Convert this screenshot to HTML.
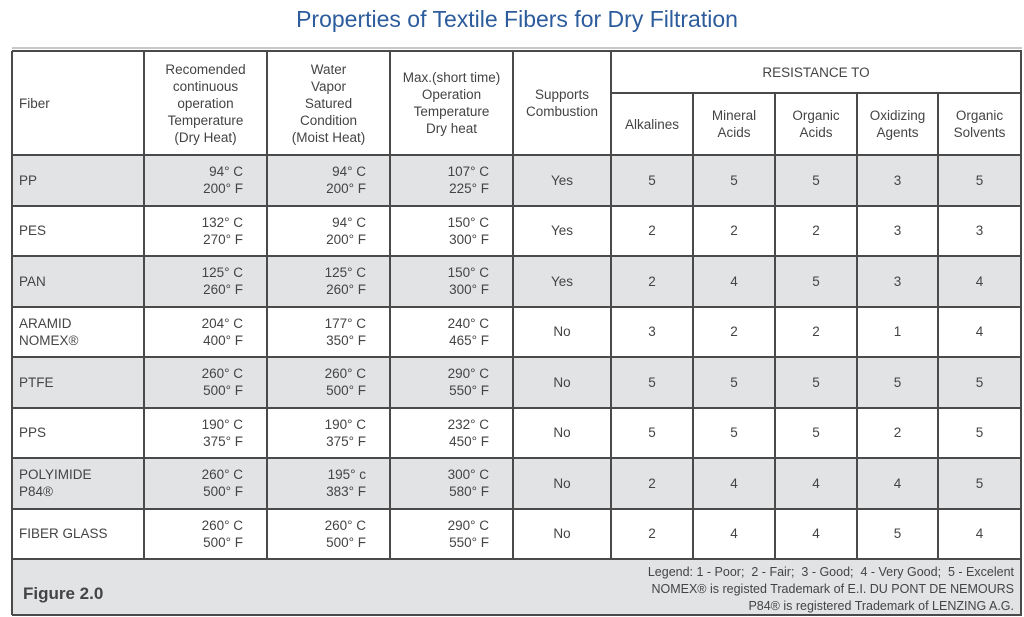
<!DOCTYPE html>
<html><head><meta charset="utf-8"><style>
body{margin:0;width:1024px;height:617px;background:#fff;position:relative;overflow:hidden;font-family:"Liberation Sans",sans-serif;color:#444;}
.c{position:absolute;box-sizing:border-box;display:flex;align-items:center;font-size:13.5px;line-height:17px;}
.cen{justify-content:center;text-align:center}
.rt{justify-content:flex-end;text-align:right;padding-right:24px}
.lf{justify-content:flex-start;padding-left:7px}
.hl{position:absolute;background:#4a4a4a;height:2px}
.vl{position:absolute;background:#4a4a4a;width:2px}
</style></head><body>
<div style="position:absolute;left:0;width:1034px;top:6px;text-align:center;font-size:23px;color:#2d5c9c;">Properties of Textile Fibers for Dry Filtration</div>
<div style="position:absolute;left:12px;width:1010px;top:47px;height:2px;background:#c8c8c8"></div>
<div id="t"></div>
<script>
const fibers=["PP","PES","PAN","ARAMID<br>NOMEX®","PTFE","PPS","POLYIMIDE<br>P84®","FIBER GLASS"];
const contTemp=[["94° C","200° F"],["132° C","270° F"],["125° C","260° F"],["204° C","400° F"],["260° C","500° F"],["190° C","375° F"],["260° C","500° F"],["260° C","500° F"]];
const moistTemp=[["94° C","200° F"],["94° C","200° F"],["125° C","260° F"],["177° C","350° F"],["260° C","500° F"],["190° C","375° F"],["195° c","383° F"],["260° C","500° F"]];
const maxTemp=[["107° C","225° F"],["150° C","300° F"],["150° C","300° F"],["240° C","465° F"],["290° C","550° F"],["232° C","450° F"],["300° C","580° F"],["290° C","550° F"]];
const combustion=["Yes","Yes","Yes","No","No","No","No","No"];
const alkalines=[5,2,2,3,5,5,2,2];
const mineralAcids=[5,2,4,2,5,5,4,4];
const organicAcids=[5,2,5,2,5,5,4,4];
const oxidizing=[3,3,3,1,5,2,4,5];
const solvents=[5,3,4,4,5,5,5,4];
const cols=[12,144,267,390,513,611,693,775,857,938,1021];
const T=document.getElementById('t');
function add(cls,x,y,w,h,html,name,bg){const d=document.createElement('div');d.className=cls;d.style.left=x+'px';d.style.top=y+'px';d.style.width=w+'px';d.style.height=h+'px';if(bg)d.style.background=bg;if(html!==null)d.innerHTML=html;


T.appendChild(d);return d;}
const top0=51,hb=155,rh=50.5,split=93;
for(let i=0;i<fibers.length;i++){if(i%2===0)add('c',cols[0],hb+i*rh,cols[10]-cols[0],rh,'','row-bg','#e1e3e5');}
const footTop=hb+8*rh;
add('c',cols[0],footTop,cols[10]-cols[0],617-footTop-3,'','footer-bg','#e1e3e5');
const hdr=["Fiber","Recomended<br>continuous<br>operation<br>Temperature<br>(Dry Heat)","Water<br>Vapor<br>Satured<br>Condition<br>(Moist Heat)","Max.(short time)<br>Operation<br>Temperature<br>Dry heat","Supports<br>Combustion"];
for(let j=0;j<5;j++)add('c '+(j===0?'lf':'cen'),cols[j],top0,cols[j+1]-cols[j],hb-top0,hdr[j],'header-cell');
add('c cen',cols[5],top0,cols[10]-cols[5],split-top0,'RESISTANCE TO','resistance-header');
const sub=["Alkalines","Mineral<br>Acids","Organic<br>Acids","Oxidizing<br>Agents","Organic<br>Solvents"];
for(let j=0;j<5;j++)add('c cen',cols[5+j],split,cols[6+j]-cols[5+j],hb-split,sub[j],'subheader-cell');
const res=[alkalines,mineralAcids,organicAcids,oxidizing,solvents];
for(let i=0;i<fibers.length;i++){const y=hb+i*rh;
add('c lf',cols[0],y,cols[1]-cols[0],rh,fibers[i],'fiber-name');
add('c rt',cols[1],y,cols[2]-cols[1],rh,contTemp[i].join('<br>'),'cont-temp');
add('c rt',cols[2],y,cols[3]-cols[2],rh,moistTemp[i].join('<br>'),'moist-temp');
add('c rt',cols[3],y,cols[4]-cols[3],rh,maxTemp[i].join('<br>'),'max-temp');
add('c cen',cols[4],y,cols[5]-cols[4],rh,combustion[i],'combustion');
for(let j=0;j<5;j++)add('c cen',cols[5+j],y,cols[6+j]-cols[5+j],rh,String(res[j][i]),'resistance-value');}
add('hl',cols[0],top0-1,cols[10]-cols[0]+1,2,null,'border');
add('hl',cols[5],split-1,cols[10]-cols[5],2,null,'border');
for(let i=0;i<=8;i++)add('hl',cols[0],hb+i*rh-1,cols[10]-cols[0]+1,2,null,'border');
add('hl',cols[0],614,cols[10]-cols[0]+1,2,null,'border');
for(let j=0;j<cols.length;j++){const full=(j===0||j===10);const y0=(j>5&&j<10)?split:top0;const y1=full?615:footTop;add('vl',cols[j]-1,y0,2,y1-y0,null,'border');}
add('c lf',cols[0]+4,footTop+14,200,40,'<b style="font-size:17px">Figure 2.0</b>','figure-label');
add('c',600,footTop+4,414,52,'<div style="text-align:right;width:100%;font-size:12.5px;line-height:17px">Legend: 1 - Poor;&nbsp; 2 - Fair;&nbsp; 3 - Good;&nbsp; 4 - Very Good;&nbsp; 5 - Excelent<br>NOMEX® is registed Trademark of E.I. DU PONT DE NEMOURS<br>P84® is registered Trademark of LENZING A.G.</div>','legend-note');
</script>
</body></html>
